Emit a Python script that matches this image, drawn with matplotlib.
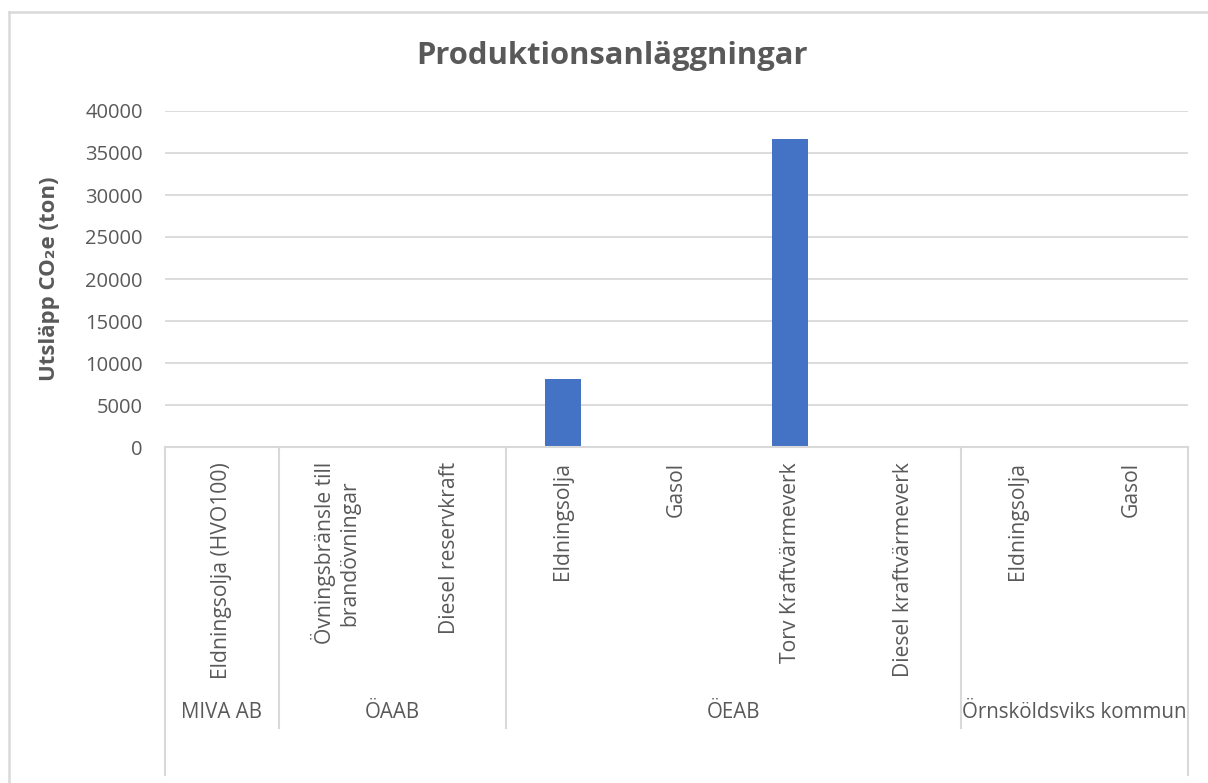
import matplotlib
matplotlib.use("Agg")
import matplotlib.pyplot as plt
from matplotlib.lines import Line2D
from matplotlib.transforms import blended_transform_factory

plt.rcParams['font.family'] = ['Open Sans', 'DejaVu Sans']

# ---- data ----
groups = ["MIVA AB", "ÖAAB", "ÖEAB", "Örnsköldsviks kommun"]
group_sizes = [1, 2, 4, 2]
categories = ["Eldningsolja (HVO100)",
              "Övningsbränsle till\nbrandövningar", "Diesel reservkraft",
              "Eldningsolja", "Gasol", "Torv Kraftvärmeverk", "Diesel kraftvärmeverk",
              "Eldningsolja", "Gasol"]
values = [0, 0, 0, 8070, 0, 36630, 0, 150, 0]
yticks = [0, 5000, 10000, 15000, 20000, 25000, 30000, 35000, 40000]

TEXT = "#595959"
GRID = "#d9d9d9"
BAR = "#4472C4"

W, H = 1208, 783
fig = plt.figure(figsize=(W / 100, H / 100), dpi=100)
ax_l, ax_r, ax_t, ax_b = 165, 1188, 111, 447
ax = fig.add_axes([ax_l / W, 1 - ax_b / H, (ax_r - ax_l) / W, (ax_b - ax_t) / H])

n = len(categories)
x = list(range(n))
ax.bar(x, values, width=0.32, color=BAR, zorder=3)
ax.set_xlim(-0.5, n - 0.5)
ax.set_ylim(0, 40000)
ax.set_yticks(yticks)
ax.set_yticklabels([str(v) for v in yticks], fontsize=14.5, color=TEXT)
ax.tick_params(axis='y', length=0, pad=16)
ax.set_xticks([])
ax.grid(axis='y', color=GRID, linewidth=1.3, zorder=0)
for s in ax.spines.values():
    s.set_visible(False)

# y label
ax.set_ylabel("Utsläpp CO₂e (ton)", fontsize=16, fontweight='bold', color=TEXT)
ax.yaxis.set_label_coords(-105 / (ax_r - ax_l), 0.5)

# title
fig.text(612 / W, 1 - 56 / H, "Produktionsanläggningar", fontsize=22.3,
         fontweight='bold', color=TEXT, ha='center', va='center')

# category table
tr = blended_transform_factory(ax.transData, ax.transAxes)
ph = ax_b - ax_t
def fy(py):
    return (ax_b - py) / ph

ax.plot([-0.5, n - 0.5], [0, 0], color=GRID, lw=1.5, transform=tr, clip_on=False, zorder=4)
ax.plot([-0.5, -0.5], [0, fy(775)], color=GRID, lw=1.5, transform=tr, clip_on=False)
ax.plot([n - 0.5, n - 0.5], [0, fy(775)], color=GRID, lw=1.5, transform=tr, clip_on=False)
start = 0
for i, (g, sz) in enumerate(zip(groups, group_sizes)):
    end = start + sz
    if i > 0:
        ax.plot([start - 0.5, start - 0.5], [0, fy(728)], color=GRID, lw=1.5,
                transform=tr, clip_on=False)
    ax.text((start + end - 1) / 2, fy(713), g, transform=tr, ha='center', va='center',
            fontsize=14.8, color=TEXT)
    start = end

for xi, c in zip(x, categories):
    ax.text(xi, fy(462), c, transform=tr, rotation=90, ha='center', va='top',
            multialignment='center', fontsize=15.2, color=TEXT, linespacing=1.25)

# figure border
fig.add_artist(Line2D([8.5 / W, 8.5 / W], [0, 1 - 12 / H], transform=fig.transFigure,
                      color=GRID, lw=1.8))
fig.add_artist(Line2D([8.5 / W, 1], [1 - 12 / H, 1 - 12 / H], transform=fig.transFigure,
                      color=GRID, lw=1.8))

fig.savefig("out.png", dpi=100, facecolor="white")
